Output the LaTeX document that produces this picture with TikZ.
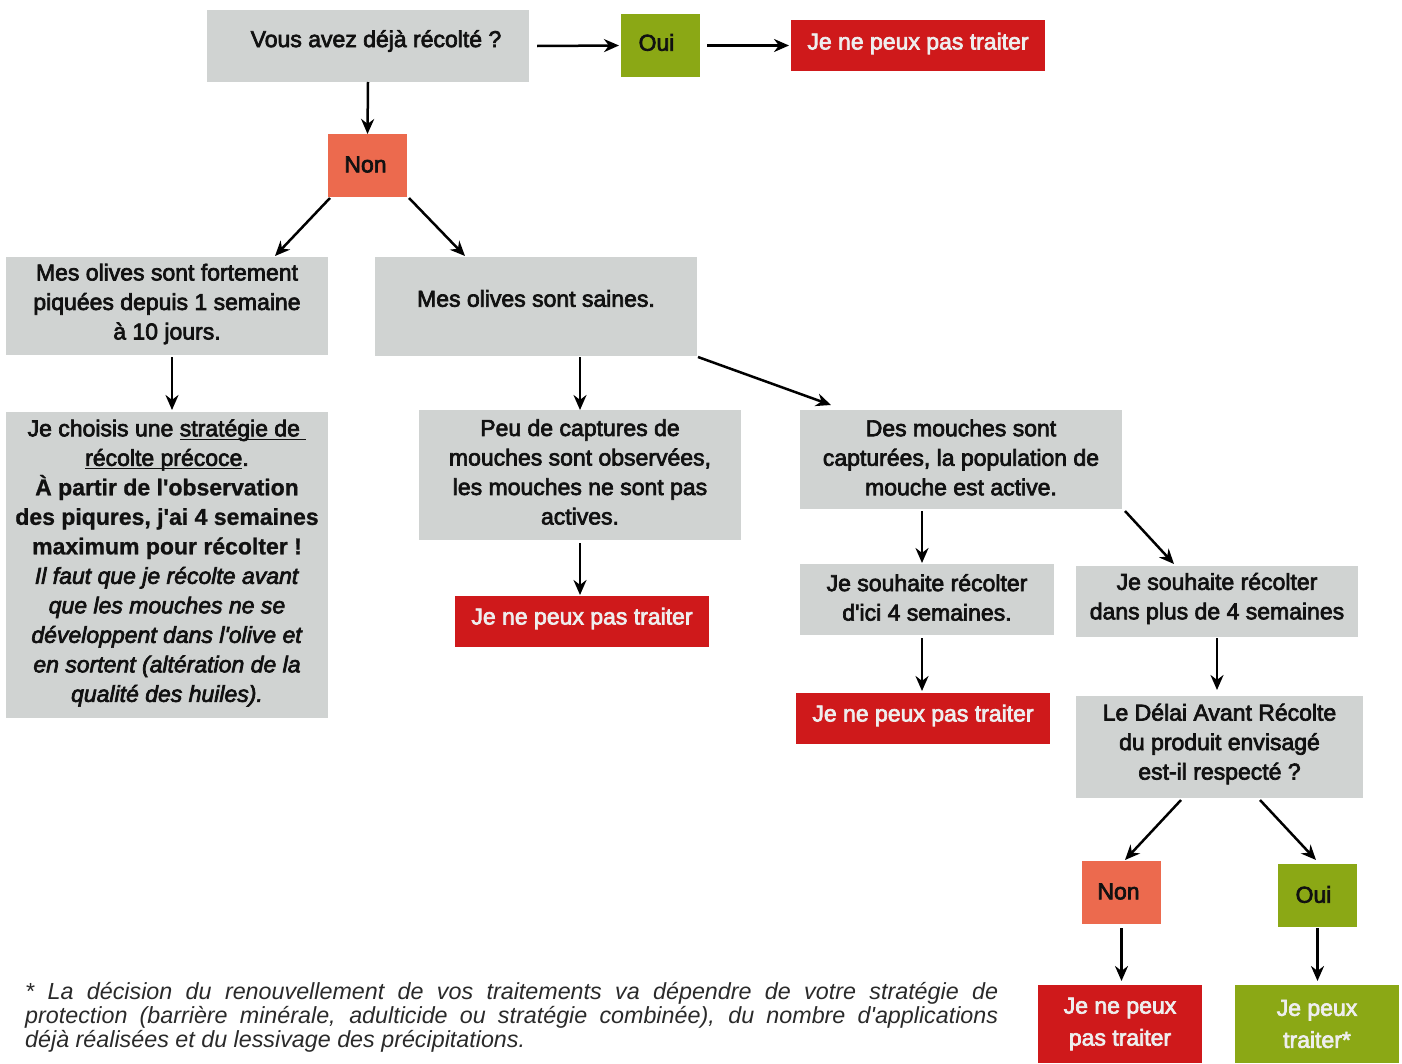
\documentclass[tikz,border=0pt]{standalone}
\usepackage{fontspec}
\setmainfont{Liberation Sans}[Ligatures=TeXOff,FakeBold=3,BoldFeatures={FakeBold=1}]
\newfontfamily\footfont{Liberation Sans}[Ligatures=TeXOff]
\newcommand\myul[1]{\setbox0\hbox{#1}\rlap{\rule[-3.5pt]{\wd0}{1.3pt}}\box0}
\usetikzlibrary{arrows.meta,calc}
\definecolor{gbox}{HTML}{D0D3D2}
\definecolor{gok}{HTML}{8BA815}
\definecolor{rno}{HTML}{CF191B}
\definecolor{onon}{HTML}{EC6A4E}
\definecolor{ink}{HTML}{111111}
\definecolor{wtxt}{HTML}{EEEEEE}
\definecolor{fng}{HTML}{2A2A2A}
\newcommand\bbx[8]{%
  \node[#2, minimum width={#5-#3}, minimum height={#6-#4}] (#1) at ({(#3+#5)/2},{(#4+#6)/2}) {};
  \node[txt, #7] (#1t) at (#1) {#8};}
\begin{document}
\begin{tikzpicture}[x=1pt,y=-1pt,
  basebox/.style={draw=none, inner sep=0, outer sep=0},
  grey/.style={basebox, fill=gbox},
  green/.style={basebox, fill=gok},
  red/.style={basebox, fill=rno},
  orange/.style={basebox, fill=onon},
  txt/.style={align=center, inner sep=0, text=ink, font=\fontsize{23}{29.5}\selectfont},
  wt/.style={text=wtxt},
  tall/.style={font=\fontsize{23}{32}\selectfont},
  arr/.style={-{Stealth[length=15pt,width=13pt]}, line width=2.5pt, black},
  foot/.style={align=justify, inner sep=0, text=fng, text width=973pt,
    font=\footfont\itshape\fontsize{23.3}{24}\selectfont}]
\useasboundingbox (0,0) rectangle (1402,1063);
\fill[white] (0,0) rectangle (1402,1063);

\bbx{q1}{grey}{207}{10}{529}{82}{xshift=8,yshift=5}{Vous avez déjà récolté ?}
\bbx{oui1}{green}{621}{14}{700}{77}{xshift=-4,yshift=3}{Oui}
\bbx{r1}{red}{791}{20}{1045}{71}{yshift=2,wt}{Je ne peux pas traiter}
\bbx{non1}{orange}{328}{134}{407}{197}{xshift=-2,yshift=1}{Non}
\bbx{a}{grey}{6}{257}{328}{355}{yshift=2}{Mes olives sont fortement\\piquées depuis 1 semaine\\à 10 jours.}
\bbx{b}{grey}{375}{257}{697}{356}{yshift=8}{Mes olives sont saines.}
\bbx{c}{grey}{6}{412}{328}{718}{yshift=2}{Je choisis une \myul{stratégie de~}\\\myul{récolte précoce}.\\\textbf{À partir de l'observation}\\\textbf{des piqures, j'ai 4 semaines}\\\textbf{maximum pour récolter !}\\\textit{Il faut que je récolte avant}\\\textit{que les mouches ne se}\\\textit{développent dans l'olive et}\\\textit{en sortent (altération de la}\\\textit{qualité des huiles).}}
\bbx{e}{grey}{419}{410}{741}{540}{yshift=3}{Peu de captures de\\mouches sont observées,\\les mouches ne sont pas\\actives.}
\bbx{r2}{red}{455}{596}{709}{647}{yshift=3,wt}{Je ne peux pas traiter}
\bbx{d}{grey}{800}{410}{1122}{509}{yshift=2}{Des mouches sont\\capturées, la population de\\mouche est active.}
\bbx{f}{grey}{800}{564}{1054}{635}{yshift=2}{Je souhaite récolter\\d'ici 4 semaines.}
\bbx{g}{grey}{1076}{566}{1358}{637}{yshift=3}{Je souhaite récolter\\dans plus de 4 semaines}
\bbx{r3}{red}{796}{693}{1050}{744}{yshift=3,wt}{Je ne peux pas traiter}
\bbx{h}{grey}{1076}{696}{1363}{798}{yshift=3}{Le Délai Avant Récolte\\du produit envisagé\\est-il respecté ?}
\bbx{non2}{orange}{1082}{861}{1161}{924}{xshift=-3,yshift=1}{Non}
\bbx{oui2}{green}{1278}{864}{1357}{927}{xshift=-4,yshift=1}{Oui}
\bbx{r4}{red}{1038}{985}{1202}{1063}{wt,tall}{Je ne peux\\pas traiter}
\bbx{g4}{green}{1235}{985}{1399}{1063}{wt,tall}{Je peux\\traiter*}

\node[foot, anchor=north west] (fn) at (25,982) {* La décision du renouvellement de vos traitements va dépendre de votre stratégie de\linebreak protection (barrière minérale, adulticide ou stratégie combinée), du nombre d'applications\linebreak déjà réalisées et du lessivage des précipitations.};

\draw[arr] ([xshift=8]q1.east) -- ([xshift=-2]oui1.west);
\draw[arr] ([xshift=7]oui1.east) -- ([xshift=-2]r1.west);
\draw[arr] (q1.south) -- (non1.north);
\draw[arr] ([xshift=2,yshift=-1]non1.south west) -- ([xshift=108,yshift=1]a.north);
\draw[arr] ([xshift=2,yshift=-1]non1.south east) -- ([xshift=-71,yshift=1]b.north);
\draw[arr] ([xshift=5,yshift=-2]a.south) -- ([xshift=5,yshift=2]c.north);
\draw[arr] ([yshift=-1]b.south -| e.north) -- (e.north);
\draw[arr] ([xshift=1,yshift=-1]b.south east) -- ([xshift=-130,yshift=5]d.north);
\draw[arr] ([yshift=-3]e.south) -- ([yshift=1]e.south |- r2.north);
\draw[arr] ([xshift=-39,yshift=-2]d.south) -- ([xshift=-5,yshift=1]f.north);
\draw[arr] ([xshift=3,yshift=-2]d.south east) -- ([xshift=-43,yshift=2]g.north);
\draw[arr] ([xshift=-5,yshift=-3]f.south) -- ([xshift=-1,yshift=2]r3.north);
\draw[arr] ([yshift=-1]g.south) -- ([yshift=6]g.south |- h.north);
\draw[arr] ([xshift=-38.5,yshift=-2]h.south) -- ([xshift=3.5,yshift=1]non2.north);
\draw[arr] ([xshift=40.5,yshift=-2]h.south) -- ([xshift=-1.5,yshift=4]oui2.north);
\draw[arr] ([yshift=-4]non2.south) -- ([yshift=4]non2.south |- r4.north);
\draw[arr] ([yshift=-1]oui2.south) -- ([yshift=4]oui2.south |- g4.north);
\end{tikzpicture}
\end{document}
